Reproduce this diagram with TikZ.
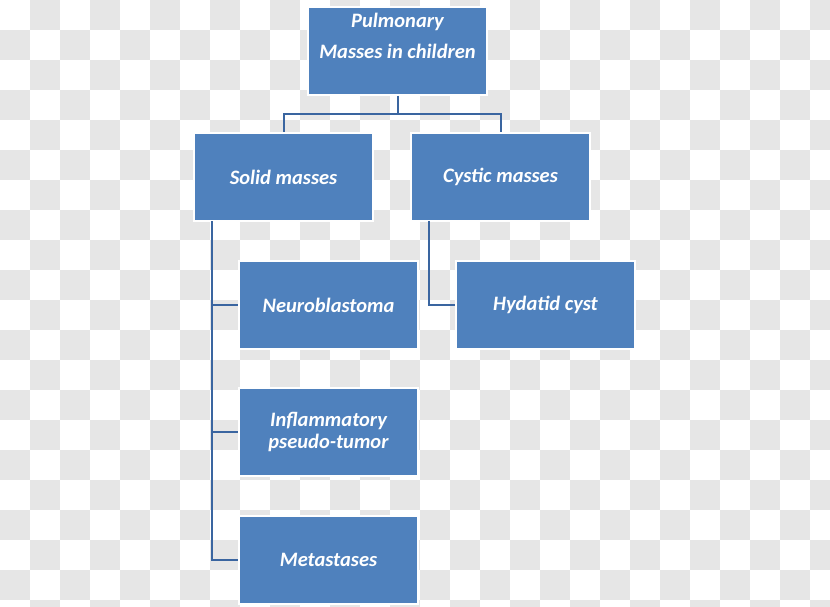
\documentclass[tikz,border=0pt]{standalone}
\usepackage{fontspec}
\setmainfont{Carlito}
\definecolor{boxblue}{HTML}{4F81BD}
\definecolor{linkblue}{HTML}{3A65A0}
\definecolor{checker}{HTML}{E6E6E6}
\tikzset{
  box/.style={draw=white, line width=2pt, fill=boxblue, minimum width=179pt, minimum height=88pt, inner sep=0pt, text=white, font=\fontsize{20.5}{22.5}\selectfont\bfseries\itshape, align=center},
  lbl/.style={text=white, font=\fontsize{20.5}{31}\selectfont\bfseries\itshape, align=center, inner sep=0pt},
  link/.style={draw=linkblue, line width=2pt}
}
\begin{document}
\begin{tikzpicture}[x=1pt,y=-1pt]
\useasboundingbox (0,0) rectangle (830,607);
\fill[white] (0,0) rectangle (830,607);
\foreach \i in {0,...,27}{
  \foreach \j in {0,...,20}{
    \pgfmathtruncatemacro{\chk}{mod(\i+\j,2)}
    \ifnum\chk=1
      \fill[checker] (\i*30,\j*30) rectangle ++(30,30);
    \fi
  }
}
\node[box] (top) at (397.5,51) {};
\node[lbl] (toptxt) at (397.5,36) {Pulmonary\\Masses in children};
\node[box] (solid) at (283.5,177) {Solid masses};
\node[box] (cystic) at (500.5,177) {Cystic masses};
\node[box] (neuro) at (328.5,305) {Neuroblastoma};
\node[box] (hyda) at (545.5,305) {Hydatid cyst};
\node[box] (infl) at (328.5,432) {Inflammatory\\pseudo-tumor};
\node[box] (meta) at (328.5,560) {Metastases};
\coordinate (hub) at (397.5,114);
\draw[link] (top.south) -- (hub);
\draw[link] (solid.north) |- (hub) -| (cystic.north);
\coordinate (sv) at (212,221);
\coordinate (cv) at (429,221);
\draw[link] (sv) |- (neuro.west);
\draw[link] (sv) |- (infl.west);
\draw[link] (sv) |- (meta.west);
\draw[link] (cv) |- (hyda.west);
\end{tikzpicture}
\end{document}
